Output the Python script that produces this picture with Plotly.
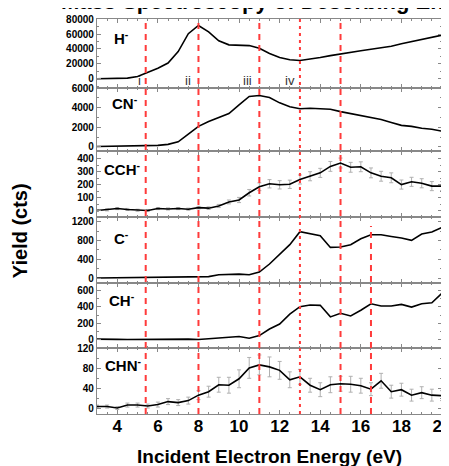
import plotly.graph_objects as go
from plotly.subplots import make_subplots

energy = [3.0, 3.5, 4.0, 4.5, 5.0, 5.5, 6.0, 6.5, 7.0, 7.5, 8.0, 8.5, 9.0, 9.5, 10.0, 10.5, 11.0, 11.5,
          12.0, 12.5, 13.0, 13.5, 14.0, 14.5, 15.0, 15.5, 16.0, 16.5, 17.0, 17.5, 18.0, 18.5, 19.0, 19.5, 20.0]

h_minus = [0, 0, 200, 800, 3000, 8500, 14000, 21000, 36500, 60500, 71500, 63000, 51000, 45500, 45000, 44500, 41000,
           34000, 28500, 25500, 24500, 26000, 28500, 31000, 33500, 35500, 37500, 39500, 41500, 43500, 47000, 50000,
           53000, 56000, 58500]
cn_minus = [40, 50, 60, 70, 90, 140, 160, 260, 520, 1300, 2100, 2600, 3000, 3400, 4300, 5150, 5250, 5050,
            4500, 4100, 3900, 3950, 3900, 3850, 3600, 3400, 3200, 3000, 2800, 2500, 2200, 2100, 1900, 1800, 1600]
cch_minus = [0, 5, 15, 8, 2, 0, 15, 12, 15, 10, 22, 18, 35, 66, 81, 137, 183, 206,
             198, 202, 239, 264, 290, 340, 366, 333, 337, 290, 264, 252, 200, 221, 210, 188, 188]
cch_err = [8, 8, 8, 8, 8, 8, 8, 8, 8, 8, 10, 10, 12, 15, 20, 25, 30, 32,
           32, 32, 35, 35, 35, 38, 38, 38, 38, 38, 38, 38, 35, 35, 35, 35, 35]
c_minus = [0, 2, 4, 5, 6, 8, 10, 10, 12, 15, 18, 30, 70, 80, 85, 70, 128, 300,
           500, 713, 990, 955, 905, 655, 663, 713, 841, 925, 925, 890, 856, 805, 942, 984, 1080]
ch_minus = [5, 8, 2, 0, 2, 3, 5, 3, 2, 5, 0, 8, 20, 28, 36, 16, 48, 129,
            190, 311, 403, 424, 420, 278, 323, 290, 359, 439, 411, 411, 432, 399, 439, 451, 570]
chn_minus = [3, 3, 0, 6, 6, 4, 7, 13, 11, 15, 26, 33, 47, 46, 59, 81, 87, 83,
             76, 57, 63, 46, 37, 47, 49, 48, 45, 38, 55, 33, 37, 26, 31, 26, 25]
chn_err = [3, 3, 3, 4, 4, 4, 5, 6, 6, 7, 9, 11, 15, 16, 18, 21, 20, 20,
           18, 16, 15, 14, 14, 16, 15, 16, 15, 13, 15, 13, 13, 12, 12, 12, 10]

panel_names = ["H<sup>-</sup>", "CN<sup>-</sup>", "CCH<sup>-</sup>", "C<sup>-</sup>", "CH<sup>-</sup>", "CHN<sup>-</sup>"]
resonances = [5.4, 8.0, 11.0, 13.0, 15.0]
late_resonance = 16.5
roman_labels = ["i", "ii", "iii", "iv"]
roman_x = [5.1, 7.5, 10.4, 12.5]

series = [h_minus, cn_minus, cch_minus, c_minus, ch_minus, chn_minus]
errors = [None, None, cch_err, None, None, chn_err]
y_ranges = [[-12000, 80200], [-450, 6050], [-50, 456], [-105, 1305], [-105, 695], [-12, 121]]
y_ticks = [[0, 20000, 40000, 60000, 80000], [0, 2000, 4000, 6000], [0, 100, 200, 300, 400],
           [0, 400, 800, 1200], [0, 200, 400, 600], [0, 40, 80, 120]]
label_x = [3.74, 3.64, 3.25, 3.74, 3.5, 3.3]
label_y = [55000, 4500, 320, 860, 490, 87]

FONT = "Arial, Liberation Sans, sans-serif"

fig = make_subplots(rows=6, cols=1, shared_xaxes=True, vertical_spacing=0,
                    row_heights=[69, 64, 66, 66.3, 65.4, 66.3])

for i, ys in enumerate(series):
    err = errors[i]
    fig.add_trace(go.Scatter(
        x=energy, y=ys, mode="lines",
        line=dict(color="black", width=1.6),
        error_y=dict(type="data", array=err, visible=err is not None, color="#b0b0b0", thickness=1, width=2),
        showlegend=False), row=i + 1, col=1)
    fig.update_yaxes(range=y_ranges[i], tickvals=y_ticks[i], tickformat="d", row=i + 1, col=1,
                     minor=dict(dtick=(y_ticks[i][1] - y_ticks[i][0]) / 2, ticks="inside", ticklen=2,
                                tickcolor="#888"))
    fig.add_annotation(text="<b>" + panel_names[i] + "</b>", x=label_x[i], y=label_y[i], xref="x",
                       yref="y" if i == 0 else f"y{i + 1}",
                       showarrow=False, xanchor="left", yanchor="middle",
                       font=dict(family=FONT, size=15, color="black"),
                       row=i + 1, col=1)

fig.update_yaxes(showgrid=False, zeroline=False, ticks="inside", ticklen=4, tickcolor="#888",
                 showline=True, linecolor="#888", linewidth=1.2, mirror="ticks",
                 tickfont=dict(family=FONT, size=10, color="black", weight="bold"))
fig.update_xaxes(range=[3, 20], showgrid=False, zeroline=False, ticks="inside", ticklen=4, tickcolor="#888",
                 showline=True, linecolor="#888", linewidth=1.2, mirror="ticks",
                 tick0=0, dtick=2, minor=dict(dtick=0.5, ticks="inside", ticklen=2, tickcolor="#888"),
                 ticklabeloverflow="allow", ticklabelstandoff=-4,
                 tickfont=dict(family=FONT, size=17, color="black", weight="bold"))

for xv in resonances:
    fig.add_shape(type="line", xref="x", yref="paper", x0=xv, x1=xv, y0=0, y1=1,
                  line=dict(color="#ff3b3b", width=2, dash="3px,4px" if xv == 13.0 else "6px,5px"))
fig.add_shape(type="line", xref="x", yref="paper", x0=late_resonance, x1=late_resonance, y0=0, y1=0.476,
              line=dict(color="#ff3b3b", width=2, dash="6px,5px"))

for lab, xv in zip(roman_labels, roman_x):
    fig.add_annotation(text=lab, x=xv, y=-2000, xref="x", yref="y", showarrow=False,
                       font=dict(family=FONT, size=13, color="#333"))

fig.add_annotation(text="<b>Yield (cts)</b>", x=-0.223, y=0.463, xref="paper", yref="paper", textangle=-90,
                   xanchor="center", yanchor="middle",
                   showarrow=False, font=dict(family=FONT, size=20, color="black"))
fig.add_annotation(text="<b>Incident Electron Energy (eV)</b>", x=0.5, y=-0.108, xref="paper", yref="paper",
                   xanchor="center", yanchor="middle",
                   showarrow=False, font=dict(family=FONT, size=19, color="black"))
fig.add_annotation(text="<b>Mass Spectroscopy of Desorbing Energy Yields</b>", x=0.62, y=1.045,
                   xref="paper", yref="paper", xanchor="center", yanchor="middle",
                   showarrow=False, font=dict(family=FONT, size=22, color="black"))

# page body has an 8px margin, so the plot area is shifted back by that amount
fig.update_layout(width=449, height=466, margin=dict(l=89, r=15, t=6, b=60),
                  plot_bgcolor="white", paper_bgcolor="white")

fig.write_html("out.html")
